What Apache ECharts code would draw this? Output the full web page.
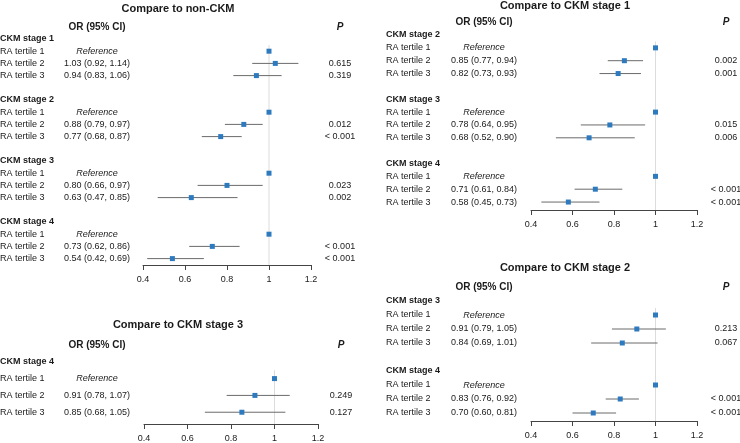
<!DOCTYPE html>
<html>
<head>
<meta charset="utf-8">
<title>Forest plots</title>
<script src="https://cdn.jsdelivr.net/npm/echarts@6/dist/echarts.min.js"></script>
<style>
    html, body { margin: 0; padding: 0; background: #fff; }
    #main { width: 740px; height: 443px; }
</style>
</head>
<body>
<div id="main"></div>
<script>
var tertiles = ['RA tertile 1', 'RA tertile 2', 'RA tertile 3'];
var xTicks = [0.4, 0.6, 0.8, 1, 1.2];

// Compare to non-CKM (tertile 2 and 3 of each stage)
var nonCkmStages = ['CKM stage 1', 'CKM stage 2', 'CKM stage 3', 'CKM stage 4'];
var nonCkmOr   = [1.03, 0.94, 0.88, 0.77, 0.80, 0.63, 0.73, 0.54];
var nonCkmLow  = [0.92, 0.83, 0.79, 0.68, 0.66, 0.47, 0.62, 0.42];
var nonCkmHigh = [1.14, 1.06, 0.97, 0.87, 0.97, 0.85, 0.86, 0.69];
var nonCkmP    = ['0.615', '0.319', '0.012', '< 0.001', '0.023', '0.002', '< 0.001', '< 0.001'];

// Compare to CKM stage 1
var stage1Stages = ['CKM stage 2', 'CKM stage 3', 'CKM stage 4'];
var stage1Or   = [0.85, 0.82, 0.78, 0.68, 0.71, 0.58];
var stage1Low  = [0.77, 0.73, 0.64, 0.52, 0.61, 0.45];
var stage1High = [0.94, 0.93, 0.95, 0.90, 0.84, 0.73];
var stage1P    = ['0.002', '0.001', '0.015', '0.006', '< 0.001', '< 0.001'];

// Compare to CKM stage 3
var stage3Stages = ['CKM stage 4'];
var stage3Or   = [0.91, 0.85];
var stage3Low  = [0.78, 0.68];
var stage3High = [1.07, 1.05];
var stage3P    = ['0.249', '0.127'];

// Compare to CKM stage 2
var stage2Stages = ['CKM stage 3', 'CKM stage 4'];
var stage2Or   = [0.91, 0.84, 0.83, 0.70];
var stage2Low  = [0.79, 0.69, 0.76, 0.60];
var stage2High = [1.05, 1.01, 0.92, 0.81];
var stage2P    = ['0.213', '0.067', '< 0.001', '< 0.001'];

var FONT = '"Liberation Sans", Arial, sans-serif';
var TEXT = '#1a1a1a';

// 每个面板的位置 (像素)
var panels = [
    { title: 'Compare to non-CKM', titleX: 178, titleY: 9,
      x0: 143, x1: 311, y0: 39, pitch: 12.2, axisY: 265, labelX: 0, orX: 97, pX: 340,
      stages: nonCkmStages, or: nonCkmOr, low: nonCkmLow, high: nonCkmHigh, p: nonCkmP },
    { title: 'Compare to CKM stage 1', titleX: 565, titleY: 6,
      x0: 531, x1: 697, y0: 35, pitch: 12.85, axisY: 210, labelX: 386, orX: 484, pX: 726,
      stages: stage1Stages, or: stage1Or, low: stage1Low, high: stage1High, p: stage1P },
    { title: 'Compare to CKM stage 3', titleX: 178, titleY: 325,
      x0: 144, x1: 318, y0: 362, pitch: 17.3, axisY: 426, labelX: 0, orX: 97, pX: 341,
      stages: stage3Stages, or: stage3Or, low: stage3Low, high: stage3High, p: stage3P },
    { title: 'Compare to CKM stage 2', titleX: 565, titleY: 268,
      x0: 531, x1: 697, y0: 301, pitch: 14, axisY: 421, labelX: 386, orX: 484, pX: 726,
      stages: stage2Stages, or: stage2Or, low: stage2Low, high: stage2High, p: stage2P }
];

// rows: header, stage, tertile 1 (reference), tertile 2, tertile 3, blank ...
function buildRows(pn) {
    var rows = [{ row: -1, kind: 'header' }];
    var r = 0;
    for (var s = 0; s < pn.stages.length; s++) {
        if (s > 0) r++;
        rows.push({ row: r++, kind: 'stage', label: pn.stages[s] });
        rows.push({ row: r++, kind: 'ref', label: tertiles[0], or: 1 });
        for (var t = 0; t < 2; t++) {
            var k = s * 2 + t;
            rows.push({ row: r++, kind: 'est', label: tertiles[t + 1],
                or: pn.or[k], low: pn.low[k], high: pn.high[k], p: pn.p[k] });
        }
    }
    return rows;
}

var myChart = echarts.init(document.getElementById('main'), null, { renderer: 'canvas' });

var grid = [], xAxis = [], yAxis = [], series = [], graphic = [];

panels.forEach(function (pn, i) {
    var rows = buildRows(pn);
    var top = pn.y0 - 0.5 * pn.pitch;
    var maxRow = (pn.axisY - pn.y0) / pn.pitch;
    var marks = rows.filter(function (d) { return d.kind === 'ref' || d.kind === 'est'; });

    grid.push({ left: pn.x0, top: top, width: pn.x1 - pn.x0, height: pn.axisY - top });

    xAxis.push({
        type: 'value', gridIndex: i,
        min: xTicks[0], max: xTicks[xTicks.length - 1], interval: 0.2,
        splitLine: { show: false },
        axisLine: { show: true, onZero: false, lineStyle: { color: '#444', width: 1 } },
        axisTick: { show: true, length: 5, lineStyle: { color: '#444' } },
        axisLabel: { fontSize: 9, color: TEXT, margin: 10, fontFamily: FONT }
    });
    yAxis.push({ type: 'value', gridIndex: i, inverse: true, min: -0.5, max: maxRow, show: false });

    // 参考线 OR = 1
    series.push({
        type: 'custom', xAxisIndex: i, yAxisIndex: i, silent: true,
        data: [[1, 0.5]],
        renderItem: function (params, api) {
            var a = api.coord([1, 0.5]);
            var b = api.coord([1, maxRow]);
            return { type: 'line', shape: { x1: a[0], y1: a[1], x2: b[0], y2: b[1] },
                     style: { stroke: '#dcdcdc', lineWidth: 1 } };
        }
    });

    // CI 线 + 方块
    series.push({
        type: 'custom', xAxisIndex: i, yAxisIndex: i, silent: true,
        data: marks.map(function (d) { return [d.or, d.row]; }),
        renderItem: function (params, api) {
            var d = marks[params.dataIndex];
            var c = api.coord([d.or, d.row]);
            var kids = [];
            if (d.kind === 'est') {
                var a = api.coord([d.low, d.row]);
                var b = api.coord([d.high, d.row]);
                kids.push({ type: 'line', shape: { x1: a[0], y1: a[1], x2: b[0], y2: b[1] },
                            style: { stroke: '#6b6b6b', lineWidth: 1 } });
            }
            kids.push({ type: 'rect', shape: { x: c[0] - 2.5, y: c[1] - 2.5, width: 5, height: 5 },
                        style: { fill: '#2e7abf' } });
            return { type: 'group', children: kids };
        }
    });

    // 文字列
    series.push({
        type: 'custom', xAxisIndex: i, yAxisIndex: i, silent: true, clip: false,
        data: rows.map(function (d) { return [1, d.row]; }),
        renderItem: function (params, api) {
            var d = rows[params.dataIndex];
            var y = api.coord([1, d.row])[1];
            var kids = [];
            function txt(x, s, font, align) {
                kids.push({ type: 'text', style: { x: x, y: y, text: s, font: font, fill: TEXT,
                            align: align, verticalAlign: 'middle' } });
            }
            if (d.kind === 'header') {
                txt(pn.orX, 'OR (95% CI)', 'bold 10px ' + FONT, 'center');
                txt(pn.pX, 'P', 'italic bold 10px ' + FONT, 'center');
            } else if (d.kind === 'stage') {
                txt(pn.labelX, d.label, 'bold 9px ' + FONT, 'left');
            } else if (d.kind === 'ref') {
                txt(pn.labelX, d.label, '9px ' + FONT, 'left');
                txt(pn.orX, 'Reference', 'italic 9px ' + FONT, 'center');
            } else {
                txt(pn.labelX, d.label, '9px ' + FONT, 'left');
                txt(pn.orX, d.or.toFixed(2) + ' (' + d.low.toFixed(2) + ', ' + d.high.toFixed(2) + ')',
                    '9px ' + FONT, 'center');
                txt(pn.pX, d.p, '9px ' + FONT, 'center');
            }
            return { type: 'group', children: kids };
        }
    });

    graphic.push({
        type: 'text', x: pn.titleX, y: pn.titleY, silent: true,
        style: { text: pn.title, font: 'bold 11px ' + FONT, fill: TEXT,
                 align: 'center', verticalAlign: 'middle' }
    });
});

var option = {
    animation: false,
    backgroundColor: '#fff',
    grid: grid,
    xAxis: xAxis,
    yAxis: yAxis,
    series: series,
    graphic: graphic
};

myChart.setOption(option);
</script>
</body>
</html>
